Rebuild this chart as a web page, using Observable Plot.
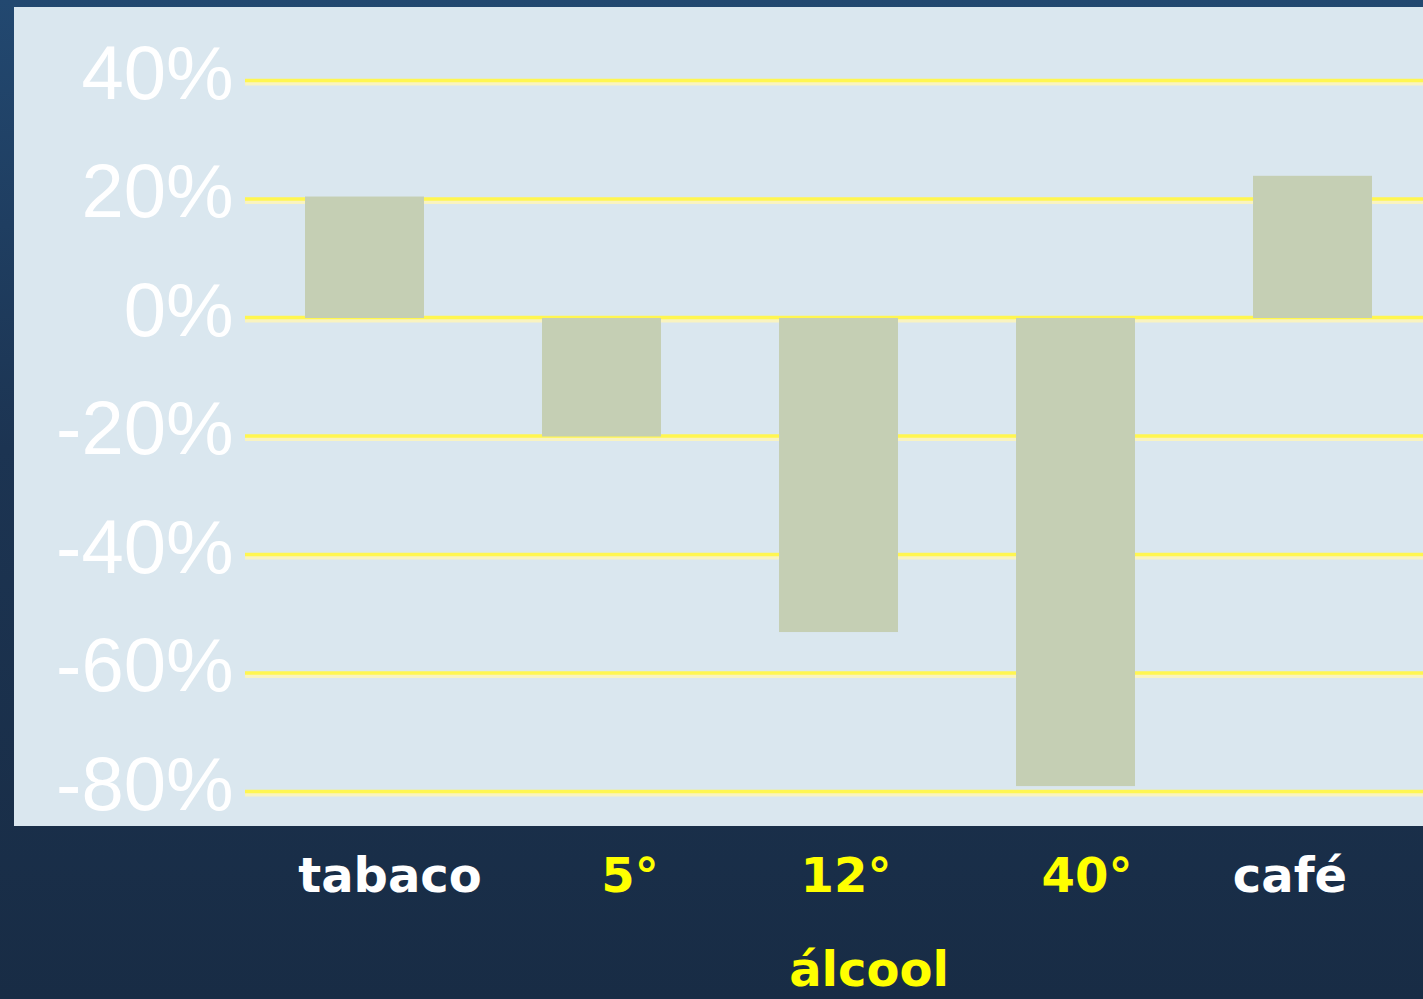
<!DOCTYPE html>
<html>
<head>
<meta charset="utf-8">
<script src="https://cdn.jsdelivr.net/npm/d3@7"></script>
<script src="https://cdn.jsdelivr.net/npm/@observablehq/plot@0.6"></script>
<style>
  html, body { margin: 0; padding: 0; }
  body {
    width: 1423px; height: 999px; overflow: hidden; position: relative;
    background: linear-gradient(180deg, #224870 0%, #1c3452 45%, #182c45 100%);
  }
  #panel {
    position: absolute; left: 14px; top: 7px; width: 1409px; height: 819px;
    background: #dae7ef;
  }
  #chart { position: absolute; left: 0; top: 0; }
</style>
</head>
<body>
<div id="panel"></div>
<div id="chart"></div>
<script>
// Data
const categories = ["tabaco", "5°", "12°", "40°", "café"];
const values = [20.5, -20, -53, -79, 24];
const alcoolGroup = ["5°", "12°", "40°"];
const groupLabel = "álcool";
const yTicks = [40, 20, 0, -20, -40, -60, -80];

const data = categories.map((c, i) => ({ name: c, value: values[i] }));

// label nudges (styling only): the category labels sit slightly off the bar centres
const labelNudge = { "tabaco": 25, "5°": 28, "12°": 7, "40°": 11, "café": -23 };

const labelFont = {
  fontSize: 48, fontWeight: "bold",
  fontFamily: "'DejaVu Sans', sans-serif", letterSpacing: -1
};

const chart = Plot.plot({
  width: 1423,
  height: 999,
  marginTop: 81,
  marginBottom: 207,
  marginLeft: 245,
  marginRight: 0,
  style: { background: "transparent", overflow: "visible" },
  x: { domain: categories, range: [245, 1432], paddingInner: 0.5, paddingOuter: 0.25, axis: null },
  y: { domain: [-80, 40], axis: null },
  marks: [
    Plot.ruleY(yTicks, { y: d => d, stroke: "#f9f3c0", strokeWidth: 6, dy: 1 }),
    Plot.ruleY(yTicks, { y: d => d, stroke: "#fff650", strokeWidth: 3.5, dy: -1 }),
    Plot.barY(data, { x: "name", y: "value", fill: "#c5cfb4" }),
    Plot.text(yTicks, {
      y: d => d, text: d => d + "%", frameAnchor: "left", textAnchor: "end",
      dx: -12, dy: -7, fill: "white", fontSize: 76,
      fontFamily: "'Liberation Sans', Arial, sans-serif", letterSpacing: -3.5
    }),
    ...categories.map(c => Plot.text([c], {
      x: d => d, text: d => d, frameAnchor: "bottom", lineAnchor: "middle",
      dx: labelNudge[c], dy: 84,
      fill: alcoolGroup.includes(c) ? "#ffff00" : "white",
      ...labelFont
    })),
    Plot.text([groupLabel], {
      x: () => alcoolGroup[1], text: d => d, frameAnchor: "bottom", lineAnchor: "middle",
      dx: 30, dy: 178, fill: "#ffff00",
      ...labelFont
    })
  ]
});
document.getElementById("chart").appendChild(chart);
</script>
</body>
</html>
